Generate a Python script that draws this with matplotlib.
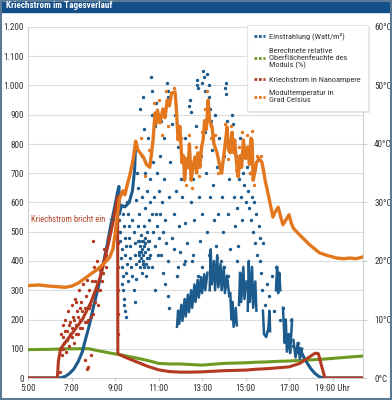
import matplotlib
matplotlib.use("Agg")
import matplotlib.pyplot as plt
from matplotlib import font_manager
from matplotlib.lines import Line2D
from matplotlib.patches import Rectangle
import matplotlib.patheffects as pe

# pick a narrow font if one is installed
installed = {f.name for f in font_manager.fontManager.ttflist}
narrow = 'Liberation Sans'
for cand in ['Roboto Condensed', 'Liberation Sans Narrow', 'Open Sans Condensed',
             'Noto Sans Condensed', 'DejaVu Sans Condensed']:
    if cand in installed:
        narrow = cand
        break
condensed = narrow != 'Liberation Sans'
plt.rcParams['font.family'] = [narrow, 'DejaVu Sans']
FS = 6.6 if condensed else 6.0

# ---- data (hours of day) ----
# irradiance W/m2, smooth clear-sky parts
blue_line_morning = [(5.0, 0), (6.45, 0), (6.7, 5), (6.9, 15), (7.1, 30), (7.3, 55), (7.5, 90),
                     (7.6, 120), (7.8, 175), (8.0, 240), (8.2, 300), (8.4, 370), (8.6, 440),
                     (8.8, 520), (9.0, 590), (9.1, 630), (9.18, 655), (9.2, 560), (9.3, 590),
                     (9.45, 585), (9.65, 600), (9.8, 640), (9.9, 711), (9.95, 803)]
blue_line_evening = [(17.5, 100), (17.65, 75), (17.8, 55), (18.0, 32), (18.2, 15), (18.4, 4),
                     (18.6, 0), (20.4, 0)]
# dense cloud-shadow bands in the afternoon
blue_bands = [
    [(11.85, 175), (11.9, 230), (11.95, 185), (12.05, 250), (12.1, 195), (12.2, 270), (12.25, 210),
     (12.35, 285), (12.4, 225), (12.5, 300), (12.55, 240), (12.65, 320), (12.7, 260), (12.8, 335),
     (12.85, 275), (12.95, 345), (13.0, 290), (13.1, 355), (13.15, 300), (13.25, 360)],
    [(13.35, 300), (13.4, 440), (13.45, 320), (13.55, 400), (13.6, 300), (13.7, 420), (13.75, 310),
     (13.85, 390), (13.9, 300), (14.0, 380), (14.05, 290), (14.15, 350), (14.25, 280)],
    [(14.3, 290), (14.35, 200), (14.4, 260), (14.45, 175), (14.55, 240), (14.6, 180)],
    [(14.7, 250), (14.75, 360), (14.8, 260), (14.9, 380), (14.95, 270), (15.05, 330)],
    [(15.1, 230), (15.15, 400), (15.2, 260), (15.3, 380), (15.35, 240), (15.45, 330), (15.5, 230)],
    [(15.8, 230), (15.85, 150), (15.95, 140), (16.05, 170), (16.1, 230), (16.13, 160)],
    [(16.4, 300), (16.45, 380), (16.5, 290), (16.55, 360), (16.6, 300)],
    [(16.72, 240), (16.8, 120), (16.85, 200), (16.9, 90), (17.0, 150), (17.05, 85), (17.14, 200)],
    [(17.2, 130), (17.3, 70), (17.4, 120), (17.5, 65), (17.6, 100)],
]
# scattered irradiance readings
blue_pts = [
    (9.2, 540), (9.22, 500), (9.25, 470), (9.3, 440), (9.28, 410), (9.32, 380), (9.35, 350),
    (9.3, 320), (9.38, 300), (9.4, 270), (9.42, 250), (9.45, 230), (9.5, 210), (9.35, 560),
    (9.4, 520), (9.45, 480), (9.5, 450), (9.48, 420), (9.55, 390), (9.5, 360), (9.6, 330),
    (9.55, 600), (9.6, 560), (9.62, 520), (9.65, 480), (9.7, 450), (9.7, 410), (9.75, 380),
    (9.8, 540), (9.8, 350), (9.85, 500), (9.85, 300), (9.9, 460), (9.9, 420), (9.95, 610),
    (9.95, 390), (9.92, 260), (9.98, 340),
    (10.0, 700), (10.05, 650), (10.05, 520), (10.05, 470), (10.1, 430), (10.1, 400), (10.12, 560),
    (10.15, 380), (10.15, 450), (10.2, 490), (10.2, 410), (10.22, 360), (10.25, 620), (10.25, 440),
    (10.3, 470), (10.3, 400), (10.32, 520), (10.35, 380), (10.38, 430), (10.4, 580), (10.4, 460),
    (10.42, 350), (10.45, 500), (10.45, 410), (10.48, 640), (10.5, 440), (10.5, 380), (10.25, 760),
    (10.3, 960), (10.35, 850), (10.15, 920), (10.4, 700), (10.5, 820),
    (10.08, 420), (10.12, 470), (10.18, 430), (10.28, 420), (10.33, 450), (10.36, 480),
    (10.44, 390), (10.52, 470), (10.56, 410), (10.22, 470), (10.27, 390),
    (10.55, 470), (10.55, 540), (10.6, 420), (10.6, 600), (10.62, 680), (10.65, 1030), (10.68, 560),
    (10.7, 900), (10.7, 380), (10.72, 980), (10.75, 740), (10.75, 500), (10.8, 620), (10.82, 450),
    (10.85, 860), (10.85, 300), (10.9, 560), (10.9, 940), (10.95, 520), (10.95, 700), (10.97, 420),
    (11.0, 480), (11.0, 640),
    (11.05, 760), (11.05, 560), (11.1, 880), (11.1, 420), (11.15, 600), (11.2, 500), (11.2, 360),
    (11.25, 680), (11.25, 820), (11.3, 540), (11.3, 320), (11.35, 460), (11.4, 1010), (11.42, 980),
    (11.44, 960), (11.45, 400), (11.45, 280), (11.48, 240), (11.5, 620),
    (11.55, 740), (11.6, 480), (11.62, 870), (11.7, 560), (11.72, 440), (11.75, 900), (11.8, 640),
    (11.85, 350), (11.9, 790), (11.95, 520), (12.0, 430),
    (12.05, 680), (12.1, 620), (12.15, 390), (12.2, 820), (12.2, 530), (12.3, 460), (12.35, 720),
    (12.4, 930), (12.45, 950), (12.5, 910), (12.5, 600),
    (12.55, 400), (12.6, 680), (12.65, 540), (12.7, 860), (12.75, 1000), (12.78, 1020), (12.8, 990),
    (12.85, 620), (12.9, 470), (12.95, 760), (13.0, 560),
    (13.02, 1010), (13.05, 1050), (13.1, 1030), (13.12, 980), (13.15, 840), (13.2, 700),
    (13.22, 500), (13.25, 1040), (13.3, 960), (13.32, 1000), (13.35, 920), (13.35, 620),
    (13.4, 880), (13.42, 860), (13.45, 780), (13.5, 660),
    (13.55, 540), (13.6, 900), (13.65, 450), (13.7, 720), (13.75, 560), (13.8, 820), (13.85, 400),
    (13.9, 620), (13.95, 500), (14.0, 760),
    (14.05, 990), (14.08, 1010), (14.1, 970), (14.15, 880), (14.2, 560), (14.25, 680), (14.3, 440),
    (14.35, 800), (14.4, 900), (14.42, 870), (14.45, 620), (14.5, 520),
    (14.55, 760), (14.6, 580), (14.65, 450), (14.7, 680), (14.75, 820), (14.8, 620), (14.85, 540),
    (14.9, 700), (14.95, 660), (15.0, 600),
    (15.05, 720), (15.1, 640), (15.15, 580), (15.2, 700), (15.25, 540), (15.3, 620), (15.35, 500),
    (15.4, 600), (15.45, 460), (15.5, 560),
    (15.55, 420), (15.6, 520), (15.65, 480), (15.68, 400), (15.7, 360), (15.75, 300), (15.8, 460),
    (15.9, 250), (16.0, 320),
    (16.1, 280), (16.2, 350), (16.3, 230), (16.4, 380), (16.45, 340), (16.5, 300),
    (16.6, 200), (16.7, 240), (16.8, 180), (16.9, 150), (17.0, 130), (17.1, 200), (17.2, 110),
    (17.3, 90), (17.4, 120), (17.5, 100),
    (11.9, 380), (12.2, 400), (12.6, 420), (12.8, 350), (13.0, 380), (13.3, 420), (13.5, 360),
    (13.7, 410), (14.0, 380), (14.2, 350), (14.6, 400), (14.8, 330),
]

# creep current in nA
red_line = [(5.0, 0), (6.35, 0), (6.4, 60), (6.5, 100), (6.7, 120), (6.9, 140), (7.1, 160),
            (7.3, 180), (7.5, 200), (7.7, 230), (7.9, 260), (8.1, 300), (8.3, 340), (8.5, 400),
            (8.7, 460), (8.9, 530), (9.05, 590), (9.12, 620), (9.13, 85), (9.2, 80), (9.5, 70),
            (10.0, 55), (10.5, 40), (11.0, 28), (11.5, 22), (12.0, 20), (12.5, 20), (13.0, 21),
            (13.5, 23), (14.0, 25), (14.5, 26), (15.0, 27), (15.5, 30), (16.0, 32), (16.5, 35),
            (17.0, 38), (17.5, 50), (17.9, 70), (18.2, 85), (18.35, 83), (18.5, 40), (18.65, 0),
            (20.4, 0)]
red_pts = [(6.45, 20), (6.5, 150), (6.55, 80), (6.6, 180), (6.65, 120), (6.7, 200), (6.75, 90),
           (6.8, 160), (6.85, 230), (6.9, 110), (6.95, 190), (7.0, 140), (7.0, 250), (7.05, 210),
           (7.1, 120), (7.15, 270), (7.2, 180), (7.25, 230), (7.3, 150), (7.35, 300), (7.4, 200),
           (7.45, 260), (7.5, 170), (7.55, 320), (7.6, 240), (7.6, 60), (7.65, 280), (7.7, 335),
           (7.7, 30), (7.75, 200), (7.8, 300), (7.85, 250), (7.9, 80), (7.95, 330), (8.0, 220),
           (8.0, 470), (8.05, 380), (8.1, 260), (8.15, 400), (8.2, 300), (8.3, 370), (8.4, 330),
           (8.5, 440), (8.6, 380), (8.7, 480), (6.6, 140), (6.7, 160), (6.8, 130), (6.9, 180),
           (7.0, 170), (7.1, 200), (7.2, 150), (7.3, 210), (7.4, 170), (7.5, 230), (7.6, 190),
           (7.76, 38), (9.12, 540), (9.12, 460), (9.12, 380), (9.12, 300), (9.12, 220),
           (9.12, 150), (7.9, 210), (8.0, 280), (8.1, 330), (8.2, 250), (8.3, 300), (7.8, 240),
           (7.7, 190), (7.4, 240), (7.2, 260), (6.95, 150), (6.6, 100), (8.45, 360), (8.6, 420)]

# relative surface humidity in %
green_line = [(5.0, 97), (6.0, 98), (7.0, 100), (7.8, 100), (8.3, 92), (8.8, 85), (9.2, 80),
              (9.6, 74), (10.0, 68), (10.5, 60), (11.0, 50), (11.5, 48), (12.0, 48), (12.5, 46),
              (13.0, 44), (13.5, 47), (14.0, 50), (14.5, 51), (15.0, 52), (15.5, 54), (16.0, 55),
              (16.5, 57), (17.0, 58), (17.5, 60), (18.0, 62), (18.5, 64), (19.0, 67), (19.5, 70),
              (20.0, 73), (20.4, 75)]

# module temperature in degC
orange_line = [(5.0, 15.8), (5.5, 15.9), (6.0, 15.7), (6.4, 15.6), (6.7, 15.5), (7.0, 15.7),
               (7.3, 16.2), (7.6, 17.0), (7.9, 17.8), (8.2, 18.6), (8.5, 19.6), (8.75, 20.6),
               (8.9, 22.0), (9.0, 24.5), (9.1, 27.5), (9.2, 30.5), (9.3, 31.6), (9.37, 32.0),
               (9.45, 31.3), (9.55, 32.8), (9.7, 35.0), (9.83, 37.3), (9.95, 40.5), (10.05, 39.0),
               (10.15, 38.5), (10.3, 37.8), (10.45, 36.5), (10.6, 36.0), (10.75, 40.7),
               (10.84, 45.3), (10.9, 43.5), (10.95, 45.8), (11.07, 43.6), (11.2, 46.0),
               (11.3, 44.5), (11.4, 47.5), (11.5, 46.5), (11.6, 48.7), (11.76, 48.9),
               (11.82, 46.0), (11.9, 40.7), (11.98, 43.0), (12.08, 36.8), (12.15, 38.0),
               (12.2, 33.8), (12.28, 37.5), (12.36, 36.0), (12.42, 40.0), (12.5, 33.8),
               (12.6, 36.5), (12.68, 37.8), (12.75, 35.0), (12.82, 38.5), (12.9, 36.0),
               (12.98, 39.5), (13.05, 40.7), (13.12, 44.0), (13.2, 42.5), (13.28, 47.5),
               (13.35, 44.0), (13.46, 42.9), (13.55, 40.0), (13.69, 38.5), (13.8, 36.5),
               (13.9, 35.0), (14.0, 38.0), (14.08, 40.5), (14.15, 42.9), (14.22, 39.0),
               (14.3, 38.5), (14.38, 42.0), (14.45, 38.5), (14.5, 40.7), (14.58, 37.0),
               (14.66, 34.4), (14.75, 38.0), (14.82, 36.0), (14.9, 40.7), (15.0, 37.5),
               (15.1, 39.5), (15.18, 36.5), (15.25, 41.0), (15.3, 40.7), (15.35, 33.8),
               (15.45, 35.5), (15.5, 36.8), (15.62, 37.5), (15.75, 36.9), (15.85, 35.0),
               (15.9, 33.8), (16.03, 31.6), (16.15, 29.5), (16.26, 27.5), (16.38, 28.5),
               (16.5, 29.2), (16.62, 27.5), (16.72, 26.2), (16.85, 27.0), (17.0, 27.9),
               (17.1, 26.5), (17.2, 25.6), (17.35, 25.0), (17.5, 24.4), (17.75, 23.5),
               (17.97, 22.7), (18.2, 22.0), (18.4, 21.4), (18.8, 20.9), (19.2, 20.5),
               (19.5, 20.4), (19.8, 20.5), (20.1, 20.4), (20.4, 20.7)]
# spread of single temperature readings around the trace
orange_pts = [(10.2, 41), (10.4, 34.5), (10.55, 39), (10.8, 47), (11.0, 47.5), (11.15, 41.5),
              (11.35, 49), (11.45, 43), (11.7, 49.5), (11.85, 43.5), (12.05, 41), (12.25, 33),
              (12.4, 41.5), (12.55, 32.5), (12.7, 39.5), (12.85, 34.5), (13.0, 42), (13.15, 46),
              (13.25, 49), (13.4, 41), (13.6, 41.5), (13.75, 35), (14.05, 43.5), (14.2, 37.5),
              (14.35, 43), (14.55, 35.5), (14.7, 39.5), (14.85, 42), (15.05, 41.5), (15.2, 35),
              (15.28, 42.3), (15.4, 33), (15.55, 38), (15.7, 38)]

x_ticks = [5, 7, 9, 11, 13, 15, 17, 19]
x_labels = ['5:00', '7:00', '9:00', '11:00', '13:00', '15:00', '17:00', '19:00 Uhr']
y_ticks = list(range(0, 1300, 100))
y_labels = ['0', '100', '200', '300', '400', '500', '600', '700', '800', '900',
            '1.000', '1.100', '1.200']
t_ticks = [0, 10, 20, 30, 40, 50, 60]
t_labels = ['0°C', '10°C', '20°C', '30°C', '40°C', '50°C', '60°C']

BLUE = '#1c5b8c'
GREEN = '#6e9a22'
RED = '#b23a20'
ORANGE = '#e2771e'
TXT = '#333333'

fig = plt.figure(figsize=(3.92, 4.0), dpi=100)
# title bar and frame
fig.patches.append(Rectangle((0, 1 - 12 / 400), 1, 12 / 400, transform=fig.transFigure,
                             color='#13508a', zorder=0))
fig.patches.append(Rectangle((0.002, 0.002), 0.996, 0.996, transform=fig.transFigure,
                             fill=False, edgecolor='#5b7a96', lw=1.5, zorder=0))
fig.text(0.015, 1 - 6 / 400, 'Kriechstrom im Tagesverlauf', color='white', fontsize=FS,
         fontweight='bold', va='center', ha='left')

ax = fig.add_axes([28 / 392, 22 / 400, 335 / 392, 351 / 400])
ax.set_xlim(5, 20.4)
ax.set_ylim(0, 1200)

ax.grid(axis='y', color='#dddddd', lw=0.8)
ax.set_axisbelow(True)
ax.spines['top'].set_visible(False)
for s in ['left', 'right', 'bottom']:
    ax.spines[s].set_color('#d0d0d0')
    ax.spines[s].set_linewidth(0.8)

ax.plot(*zip(*green_line), color=GREEN, lw=2.2, solid_capstyle='round', zorder=3)

ax.plot(*zip(*blue_line_morning), color=BLUE, lw=2.2, zorder=4)
ax.plot(*zip(*blue_line_evening), color=BLUE, lw=2.2, zorder=4)
for band in blue_bands:
    ax.plot(*zip(*band), color=BLUE, lw=1.8, zorder=4)
ax.scatter(*zip(*blue_pts), s=6, color=BLUE, lw=0, zorder=4)

ax.plot(*zip(*red_line), color=RED, lw=2.2, zorder=5)
ax.scatter(*zip(*red_pts), s=6, color=RED, lw=0, zorder=5)

ax.set_xticks(x_ticks)
ax.set_xticklabels(x_labels)
ax.set_yticks(y_ticks)
ax.set_yticklabels(y_labels)
ax.tick_params(axis='both', labelsize=FS, colors=TXT, length=0, pad=3)
ax.tick_params(axis='x', length=2, color='#cccccc', pad=2)

ax.annotate('Kriechstrom bricht ein', xy=(9.02, 543), xytext=(8.55, 543),
            color='#b5472a', fontsize=FS - 0.4, ha='right', va='center',
            arrowprops=dict(arrowstyle='-|>', color='#555555', lw=0.6,
                            mutation_scale=5, shrinkA=1, shrinkB=0), zorder=6)

ax2 = ax.twinx()
ax2.set_ylim(0, 60)
ax2.plot(*zip(*orange_line), color=ORANGE, lw=2.4, zorder=3)
ax2.scatter(*zip(*orange_pts), s=6, color=ORANGE, lw=0, zorder=3)
ax2.set_yticks(t_ticks)
ax2.set_yticklabels(t_labels)
ax2.tick_params(axis='y', labelsize=FS, colors=TXT, length=3, pad=5)
ax2.tick_params(axis='y', color='#cccccc')
for s in ax2.spines.values():
    s.set_visible(False)

handles = [Line2D([], [], color=c, lw=2, ls=(0, (1, 0.6))) for c in [BLUE, GREEN, RED, ORANGE]]
names = ['Einstrahlung (Watt/m²)',
         'Berechnete relative\nOberflächenfeuchte des\nModuls (%)',
         'Kriechstrom in Nanoampere',
         'Modultemperatur in\nGrad Celsius']
leg = ax2.legend(handles, names, loc='upper left', bbox_to_anchor=(0.645, 1.012),
                 fontsize=FS - 0.6, frameon=True, fancybox=False, shadow=False,
                 handlelength=1.3, handletextpad=0.5, labelspacing=0.85,
                 borderpad=0.9, borderaxespad=0.3, edgecolor='#e6e6e6', framealpha=1)
leg.get_frame().set_linewidth(0.8)
leg.get_frame().set_path_effects([pe.SimplePatchShadow(offset=(1.5, -1.5), alpha=0.12),
                                  pe.Normal()])
for t in leg.get_texts():
    t.set_color(TXT)
leg.set_zorder(10)

fig.savefig('out.png', dpi=100)
